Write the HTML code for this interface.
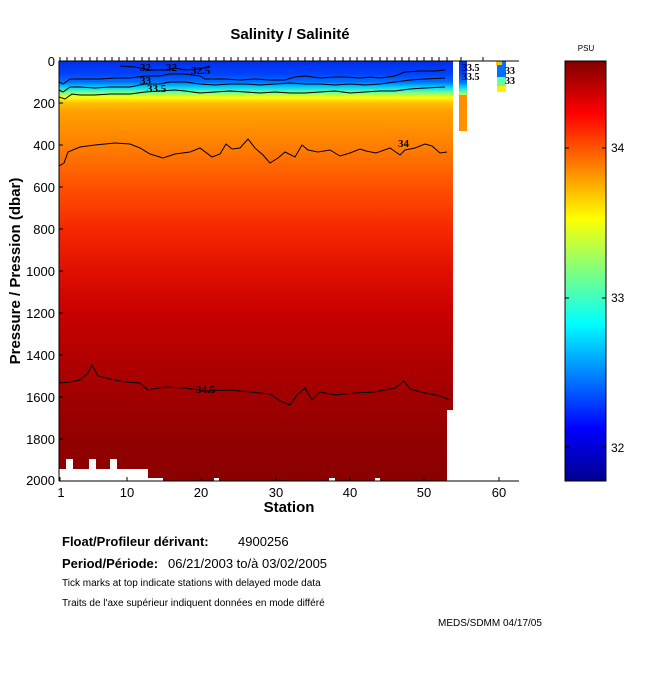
<!DOCTYPE html>
<html><head><meta charset="utf-8"><style>
body{margin:0;background:#fff;width:650px;height:680px;overflow:hidden;font-family:"Liberation Sans",sans-serif}
</style></head><body>
<svg width="650" height="680" xmlns="http://www.w3.org/2000/svg" font-family="Liberation Sans, sans-serif">
<defs>
<linearGradient id="prof" x1="0" y1="61" x2="0" y2="481" gradientUnits="userSpaceOnUse">
<stop offset="0" stop-color="#0030e8"/>
<stop offset="0.03" stop-color="#0040ff"/>
<stop offset="0.05" stop-color="#0070ff"/>
<stop offset="0.062" stop-color="#00d0ff"/>
<stop offset="0.075" stop-color="#70ff90"/>
<stop offset="0.087" stop-color="#ffff00"/>
<stop offset="0.1" stop-color="#ffc000"/>
<stop offset="0.12" stop-color="#ffa000"/>
<stop offset="0.2" stop-color="#ff8000"/>
<stop offset="0.3" stop-color="#ff5000"/>
<stop offset="0.4" stop-color="#f52800"/>
<stop offset="0.5" stop-color="#e01000"/>
<stop offset="0.6" stop-color="#c80000"/>
<stop offset="0.7" stop-color="#b40000"/>
<stop offset="0.8" stop-color="#a00000"/>
<stop offset="0.9" stop-color="#920000"/>
<stop offset="1" stop-color="#8a0000"/>
</linearGradient>
<linearGradient id="jet" x1="0" y1="0" x2="0" y2="1">
<stop offset="0" stop-color="#800000"/>
<stop offset="0.125" stop-color="#ff0000"/>
<stop offset="0.375" stop-color="#ffff00"/>
<stop offset="0.625" stop-color="#00ffff"/>
<stop offset="0.875" stop-color="#0000ff"/>
<stop offset="1" stop-color="#00008f"/>
</linearGradient>
</defs>
<text x="290" y="39" text-anchor="middle" font-size="15" font-weight="bold">Salinity / Salinité</text>
<rect x="59" y="61" width="388" height="420" fill="url(#prof)"/>
<rect x="447" y="61" width="6" height="349" fill="url(#prof)"/>
<rect x="459" y="61" width="8" height="70" fill="url(#prof)"/>
<rect x="459" y="95" width="8" height="36" fill="#ff9000"/>
<rect x="497" y="61" width="9" height="22" fill="#0070ff"/>
<rect x="497" y="77" width="9" height="12" fill="#60ffa0"/>
<rect x="497" y="86" width="9" height="6" fill="#ffee00"/>
<rect x="496" y="61" width="6" height="4" fill="#ffc000"/>
<path d="M59 469 H66 V459 H73 V469 H89 V459 H96 V469 H110 V459 H117 V469 H148 V481 H59Z M148 478 H163 V481 H148Z M214 478 H219 V481 H214Z M329 478 H335 V481 H329Z M375 478 H380 V481 H375Z" fill="#fff"/>
<g fill="none" stroke="#000" stroke-width="1">
<polyline points="120,66 135,67 150,70 165,70 175,68 185,70 200,69 210,66"/>
<polyline points="59,82 63,84 70,79 85,79 100,79 115,78 130,78 145,76 160,76 170,74 185,74 200,76 205,79 215,79 225,79 240,80 255,79 270,80 285,80 295,77 305,76 320,78 335,77 345,77 360,78 370,77 380,78 395,76 405,72 420,71 435,71 445,70"/>
<polyline points="59,90 63,92 70,87 80,87 95,88 110,87 130,87 145,84 160,84 170,82 185,82 200,84 215,85 230,84 245,84 260,85 275,84 290,83 305,84 320,84 335,85 350,84 365,85 380,84 395,82 410,80 425,79 445,78"/>
<polyline points="59,97 65,99 72,94 80,95 95,95 110,94 130,94 145,92 160,91 175,90 185,91 200,93 215,92 230,91 245,92 260,93 275,92 290,93 305,93 320,92 335,91 350,93 365,92 380,91 395,91 410,89 425,88 445,87"/>
<polyline points="59,166 64,163 68,152 80,147 95,145 115,143 130,144 140,148 150,154 163,158 175,154 190,152 200,148 212,157 220,154 226,144 232,149 240,148 248,139 255,148 263,155 270,163 278,158 285,152 295,157 302,145 308,150 318,152 330,150 340,156 350,153 360,149 366,151 376,153 390,148 400,155 405,150 415,148 425,144 432,146 440,153 447,152"/>
<polyline points="59,383 70,382 80,380 88,373 92,365 98,376 110,379 125,382 140,383 148,390 152,389 165,387 185,388 205,391 230,390 250,392 270,394 282,402 290,405 297,395 305,388 312,400 320,392 335,395 355,393 375,392 395,388 404,381 410,389 425,393 440,396 450,400"/>
</g>
<g font-size="11" font-family="Liberation Serif, serif" font-weight="bold">
<text x="140" y="71">32</text><text x="166" y="71">32</text>
<text x="191" y="74">32.5</text>
<text x="140" y="84">33</text>
<text x="147" y="92">33.5</text>
<text x="398" y="147">34</text>
<text x="196" y="393">34.5</text>
<text x="462" y="71" font-size="10">33.5</text><text x="462" y="80" font-size="10">33.5</text>
<text x="505" y="74" font-size="10">33</text><text x="505" y="84" font-size="10">33</text>
</g>
<g stroke="#000" fill="none">
<line x1="59" y1="61" x2="519" y2="61"/>
<line x1="59" y1="481" x2="519" y2="481"/>
<line x1="59" y1="61" x2="59" y2="481"/>
</g>
<g stroke="#000">
<path d="M60 61v-4M67 61v-4M75 61v-4M82 61v-4M90 61v-4M97 61v-4M105 61v-4M112 61v-4M119 61v-4M127 61v-4M134 61v-4M142 61v-4M149 61v-4M157 61v-4M164 61v-4M171 61v-4M179 61v-4M186 61v-4M194 61v-4M201 61v-4M209 61v-4M216 61v-4M224 61v-4M231 61v-4M238 61v-4M246 61v-4M253 61v-4M261 61v-4M268 61v-4M276 61v-4M283 61v-4M290 61v-4M298 61v-4M305 61v-4M313 61v-4M320 61v-4M328 61v-4M335 61v-4M343 61v-4M350 61v-4M357 61v-4M365 61v-4M372 61v-4M380 61v-4M387 61v-4M395 61v-4M402 61v-4M409 61v-4M417 61v-4M424 61v-4M432 61v-4M439 61v-4M447 61v-4M461 61v-4M483 61v-4"/>
<path d="M60 481v-4M127 481v-4M201 481v-4M276 481v-4M350 481v-4M424 481v-4M499 481v-4"/>
<path d="M59 61h4M59 103h4M59 145h4M59 187h4M59 229h4M59 271h4M59 313h4M59 355h4M59 397h4M59 439h4M59 481h4"/>
</g>
<g font-size="13" text-anchor="end">
<text x="55" y="66">0</text><text x="55" y="108">200</text><text x="55" y="150">400</text><text x="55" y="192">600</text><text x="55" y="234">800</text><text x="55" y="276">1000</text><text x="55" y="318">1200</text><text x="55" y="360">1400</text><text x="55" y="402">1600</text><text x="55" y="444">1800</text><text x="55" y="485">2000</text>
</g>
<g font-size="13" text-anchor="middle">
<text x="61" y="497">1</text><text x="127" y="497">10</text><text x="201" y="497">20</text><text x="276" y="497">30</text><text x="350" y="497">40</text><text x="424" y="497">50</text><text x="499" y="497">60</text>
</g>
<text x="289" y="512" text-anchor="middle" font-size="15" font-weight="bold">Station</text>
<text transform="translate(20,271) rotate(-90)" text-anchor="middle" font-size="15" font-weight="bold">Pressure / Pression (dbar)</text>
<text x="586" y="51" text-anchor="middle" font-size="8">PSU</text>
<rect x="565" y="61" width="41" height="420" fill="url(#jet)" stroke="#000"/>
<g stroke="#000"><path d="M565 148h4M602 148h4M565 298h4M602 298h4M565 447h4M602 447h4"/></g>
<g font-size="12"><text x="611" y="152">34</text><text x="611" y="302">33</text><text x="611" y="452">32</text></g>
<text x="62" y="546" font-size="13" font-weight="bold">Float/Profileur dérivant:</text>
<text x="238" y="546" font-size="13">4900256</text>
<text x="62" y="568" font-size="13" font-weight="bold">Period/Période:</text>
<text x="168" y="568" font-size="13">06/21/2003  to/à  03/02/2005</text>
<text x="62" y="586" font-size="10">Tick marks at top indicate stations with delayed mode data</text>
<text x="62" y="606" font-size="10">Traits de l'axe supérieur indiquent données en mode différé</text>
<text x="438" y="626" font-size="10">MEDS/SDMM  04/17/05</text>
</svg>
</body></html>
